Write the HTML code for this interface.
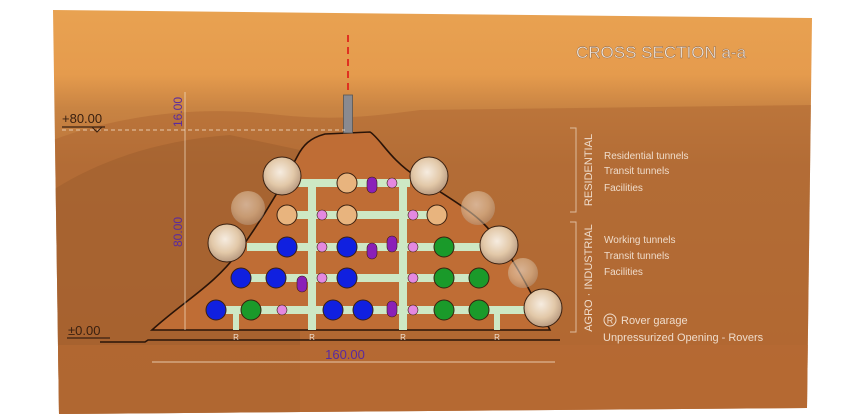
<!DOCTYPE html>
<html><head><meta charset="utf-8"><style>
html,body{margin:0;padding:0;background:#fff;width:853px;height:415px;overflow:hidden}
svg{display:block;font-family:"Liberation Sans",sans-serif}
</style></head><body>
<svg width="853" height="415" viewBox="0 0 853 415">
<defs>
<clipPath id="panel"><polygon points="53,10 812,18 807,408 59,414"/></clipPath>
<linearGradient id="sky" x1="0" y1="0" x2="0" y2="1">
<stop offset="0" stop-color="#e9a352"/><stop offset="0.18" stop-color="#e59b4d"/>
<stop offset="0.26" stop-color="#c98443"/><stop offset="0.4" stop-color="#b8733a"/>
<stop offset="1" stop-color="#b5682f"/></linearGradient>
<radialGradient id="dome" cx="0.45" cy="0.4" r="0.6">
<stop offset="0" stop-color="#f6ece0"/><stop offset="0.6" stop-color="#e2c8a8"/><stop offset="1" stop-color="#b89a80"/></radialGradient>
</defs>
<g clip-path="url(#panel)">
<rect x="0" y="0" width="853" height="415" fill="url(#sky)"/>
<path d="M53,140 C120,115 200,105 280,115 C330,120 360,118 420,110 L812,105 L812,415 L53,415Z" fill="#ad6632" opacity="0.5"/>
<path d="M53,190 C100,160 160,140 230,135 L300,150 L300,415 L53,415Z" fill="#9a5a2c" opacity="0.45"/>
<rect x="53" y="345" width="760" height="70" fill="#b76a33" opacity="0.6"/>
</g>
<path d="M152,330 C185,300 215,285 240,250 C265,215 285,180 297,157 C303,145 310,138 325,134 L370,132 C380,138 390,160 417,177 C445,195 470,210 483,223 C505,245 520,270 550,330 Z" fill="#bf6d35" stroke="#2a1408" stroke-width="1.6"/>
<path d="M100,342 L145,342 L148,340 L560,340" fill="none" stroke="#2a1408" stroke-width="1.6"/>
<line x1="348" y1="35" x2="348" y2="95" stroke="#e03020" stroke-width="2" stroke-dasharray="7,5"/>
<rect x="343.5" y="95" width="9" height="38" fill="#8a8a90" stroke="#555" stroke-width="0.8"/>
<line x1="62" y1="130" x2="345" y2="130" stroke="#f3e0c8" stroke-width="1" stroke-dasharray="4,3" opacity="0.8"/>
<line x1="62" y1="127" x2="105" y2="127" stroke="#3a2010" stroke-width="1.2"/>
<path d="M92,127 L97,132 L102,127" fill="none" stroke="#3a2010"/>
<text x="62" y="123" font-size="13" fill="#3a2010">+80.00</text>
<line x1="185" y1="92" x2="185" y2="330" stroke="#f3e0c8" stroke-width="1" opacity="0.7"/>
<text transform="translate(182,112) rotate(-90)" text-anchor="middle" font-size="12" fill="#5a2aa0">16.00</text>
<text transform="translate(182,232) rotate(-90)" text-anchor="middle" font-size="12" fill="#5a2aa0">80.00</text>
<text x="68" y="335" font-size="13" fill="#3a2010">±0.00</text>
<line x1="67" y1="338" x2="110" y2="338" stroke="#3a2010" stroke-width="1.2"/>
<line x1="152" y1="362" x2="555" y2="362" stroke="#f3e0c8" stroke-width="1" opacity="0.8"/>
<text x="345" y="359" text-anchor="middle" font-size="13" fill="#5a2aa0">160.00</text>
<g fill="#cde8c4">
<rect x="298" y="179" width="112" height="8"/>
<rect x="287" y="211" width="153" height="8"/>
<rect x="247" y="243" width="233" height="8"/>
<rect x="240" y="274" width="240" height="8"/>
<rect x="217" y="306" width="310" height="8"/>
<rect x="308" y="183" width="8" height="147"/>
<rect x="399" y="183" width="8" height="147"/>
<rect x="233" y="310" width="6" height="20"/>
<rect x="494" y="310" width="6" height="20"/>
</g>
<g font-size="8" fill="#f0e0d0" text-anchor="middle">
<text x="236" y="340">R</text><text x="312" y="340">R</text><text x="403" y="340">R</text><text x="497" y="340">R</text>
</g>
<g stroke="#3a2010" stroke-width="1">
<g fill="#e8b47e"><circle cx="347" cy="183" r="10"/><circle cx="287" cy="215" r="10"/><circle cx="347" cy="215" r="10"/><circle cx="437" cy="215" r="10"/></g>
<g fill="#1020e0"><circle cx="287" cy="247" r="10"/><circle cx="347" cy="247" r="10"/><circle cx="241" cy="278" r="10"/><circle cx="276" cy="278" r="10"/><circle cx="347" cy="278" r="10"/><circle cx="216" cy="310" r="10"/><circle cx="333" cy="310" r="10"/><circle cx="363" cy="310" r="10"/></g>
<g fill="#1a9a2a"><circle cx="444" cy="247" r="10"/><circle cx="444" cy="278" r="10"/><circle cx="479" cy="278" r="10"/><circle cx="251" cy="310" r="10"/><circle cx="444" cy="310" r="10"/><circle cx="479" cy="310" r="10"/></g>
<g fill="#e488e0" stroke-width="0.6"><circle cx="392" cy="183" r="5"/><circle cx="322" cy="215" r="5"/><circle cx="413" cy="215" r="5"/><circle cx="322" cy="247" r="5"/><circle cx="413" cy="247" r="5"/><circle cx="322" cy="278" r="5"/><circle cx="413" cy="278" r="5"/><circle cx="282" cy="310" r="5"/><circle cx="413" cy="310" r="5"/></g>
<g fill="#8a20b8" stroke-width="0.6"><rect x="367" y="177" width="10" height="16" rx="5"/><rect x="367" y="243" width="10" height="16" rx="5"/><rect x="387" y="236" width="10" height="16" rx="5"/><rect x="297" y="276" width="10" height="16" rx="5"/><rect x="387" y="301" width="10" height="16" rx="5"/></g>
</g>
<g>
<g opacity="0.55" fill="url(#dome)"><circle cx="248" cy="208" r="17"/><circle cx="478" cy="208" r="17"/><circle cx="523" cy="273" r="15"/></g>
<g fill="url(#dome)" stroke="#3a2010" stroke-width="1"><circle cx="282" cy="176" r="19"/><circle cx="429" cy="176" r="19"/><circle cx="227" cy="243" r="19"/><circle cx="499" cy="245" r="19"/><circle cx="543" cy="308" r="19"/></g>
</g>
<g stroke="#e8d0b8" stroke-width="1" fill="none" opacity="0.8">
<path d="M570,128 L576,128 L576,212 L570,212"/><path d="M570,222 L576,222 L576,332 L570,332"/>
</g>
<g fill="#efdccb" font-size="10">
<text transform="translate(592,170) rotate(-90)" text-anchor="middle" font-size="11">RESIDENTIAL</text>
<text transform="translate(592,278) rotate(-90)" text-anchor="middle" font-size="11">AGRO · INDUSTRIAL</text>
<text x="604" y="159">Residential tunnels</text>
<text x="604" y="174">Transit tunnels</text>
<text x="604" y="191">Facilities</text>
<text x="604" y="243">Working tunnels</text>
<text x="604" y="259">Transit tunnels</text>
<text x="604" y="275">Facilities</text>
<circle cx="610" cy="320" r="6" fill="none" stroke="#efdccb"/>
<text x="610" y="323.5" font-size="9" text-anchor="middle">R</text>
<text x="621" y="324" font-size="11">Rover garage</text>
<text x="603" y="341" font-size="11">Unpressurized Opening - Rovers</text>
</g>
<text x="576" y="58" font-size="17" fill="#efe6dc" stroke="#8a6040" stroke-width="0.4">CROSS SECTION a-a</text>
</svg>
</body></html>
